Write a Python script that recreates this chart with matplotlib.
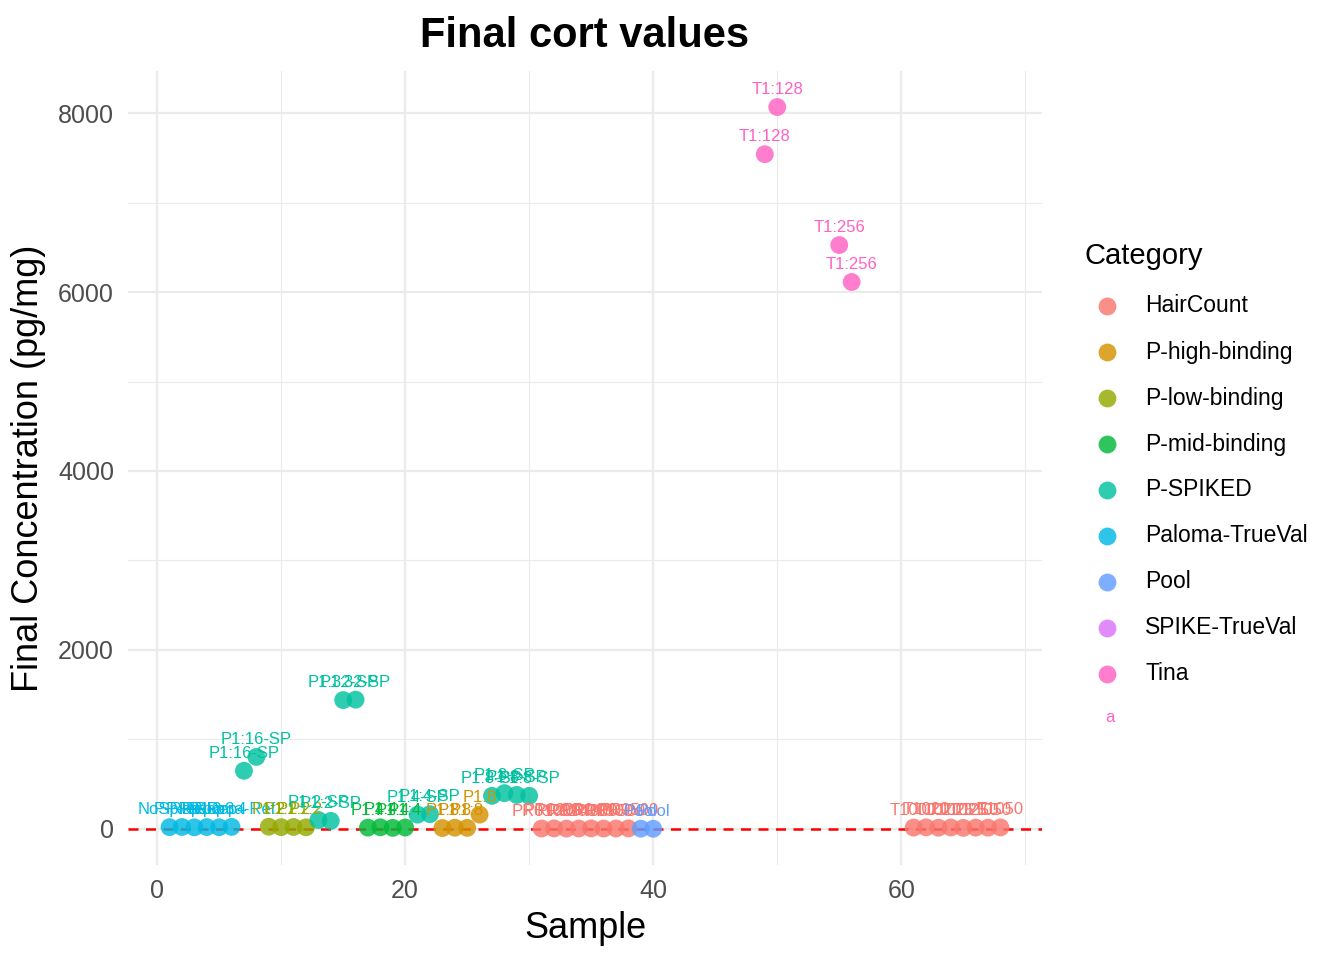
import numpy as np
import matplotlib
matplotlib.use("Agg")
import matplotlib.pyplot as plt

plt.rcParams["font.family"] = ["Liberation Sans", "DejaVu Sans"]

# --- Data ----------------------------------------------------------------
categories = ["HairCount", "P-high-binding", "P-low-binding", "P-mid-binding",
              "P-SPIKED", "Paloma-TrueVal", "Pool", "SPIKE-TrueVal", "Tina"]
colours = ["#F8766D", "#D39200", "#93AA00", "#00BA38", "#00C19F",
           "#00B9E3", "#619CFF", "#DB72FB", "#FF61C3"]

sample = [1, 2, 3, 4, 5, 6,
          7, 8,
          9, 10, 11, 12,
          13, 14, 15, 16,
          17, 18, 19, 20,
          21, 22,
          23, 24, 25, 26,
          27, 28, 29, 30,
          31, 32, 33, 34, 35, 36, 37, 38,
          39, 40,
          49, 50, 55, 56,
          61, 62, 63, 64, 65, 66, 67, 68]
conc = [20, 22, 18, 21, 19, 23,
        650, 805,
        25, 20, 22, 18,
        100, 90, 1440, 1445,
        15, 18, 12, 16,
        160, 165,
        10, 14, 12, 160,
        370, 400, 380, 370,
        5, 6, 4, 5, 6, 4, 5, 6,
        3, 2,
        7540, 8067, 6525, 6112,
        15, 18, 14, 16, 12, 15, 14, 17]
category = ["Paloma-TrueVal"] * 6 + \
           ["P-SPIKED"] * 2 + \
           ["P-low-binding"] * 4 + \
           ["P-SPIKED"] * 4 + \
           ["P-mid-binding"] * 4 + \
           ["P-SPIKED"] * 2 + \
           ["P-high-binding"] * 4 + \
           ["P-SPIKED"] * 4 + \
           ["HairCount"] * 8 + \
           ["Pool"] * 2 + \
           ["Tina"] * 4 + \
           ["HairCount"] * 8
label = ["NoSpike", "P-Rep1", "P-Rep2", "P-Rep3", "P-Rep4", "Paloma-Ref",
         "P1:16-SP", "P1:16-SP",
         "P1:2", "P1:2", "P1:2", "P1:2",
         "P1:2-SP", "P1:2-SP", "P1:32-SP", "P1:32-SP",
         "P1:4", "P1:4", "P1:4", "P1:4",
         "P1:4-SP", "P1:4-SP",
         "P1:8", "P1:8", "P1:8", "P1:8",
         "P1:8-SP", "P1:8-SP", "P1:8-SP", "P1:8-SP",
         "PR0100", "PR0200", "PR0200", "PR0400", "PR0400", "PR0500", "PR0500", "PR0500",
         "Pool", "Pool",
         "T1:128", "T1:128", "T1:256", "T1:256",
         "T1000", "T1020", "T1020", "T1025", "T1025", "T1250", "T1050", "T1050"]

colour_of = dict(zip(categories, colours))

# --- Figure ---------------------------------------------------------------
W, H = 1344, 960
fig = plt.figure(figsize=(W / 100, H / 100), dpi=100)
ax = fig.add_axes([128 / W, 1 - 865 / H, (1042 - 128) / W, (865 - 71) / H])

point_colours = [colour_of[c] for c in category]
ax.axhline(0, color="red", linestyle=(0, (4, 3)), linewidth=1.8, zorder=3)
ax.scatter(sample, conc, s=165, c=point_colours, alpha=0.82,
           linewidths=0, zorder=4)
for xi, yi, lab, col in zip(sample, conc, label, point_colours):
    ax.text(xi, yi + 195, lab, color=col, fontsize=12, ha="center",
            va="center", zorder=5)

ax.set_xlim(-2.35, 71.35)
ax.set_ylim(-403, 8470)
ax.set_xticks([0, 20, 40, 60])
ax.set_xticks([10, 30, 50, 70], minor=True)
ax.set_yticks([0, 2000, 4000, 6000, 8000])
ax.set_yticks([1000, 3000, 5000, 7000], minor=True)
ax.grid(which="major", color="#EBEBEB", linewidth=1.6, zorder=0)
ax.grid(which="minor", color="#EBEBEB", linewidth=0.8, zorder=0)
ax.set_axisbelow(True)
for sp in ax.spines.values():
    sp.set_visible(False)
ax.tick_params(which="both", length=0, labelsize=18, labelcolor="#4D4D4D")
ax.tick_params(axis="x", pad=10)
ax.tick_params(axis="y", pad=10)
ax.set_xlabel("Sample", fontsize=26, labelpad=6)
ax.set_ylabel("Final Concentration (pg/mg)", fontsize=26, labelpad=9)
ax.set_title("Final cort values", fontsize=30, fontweight="bold", pad=17)

# --- Legend drawn by hand in pixel coordinates ----------------------------
leg = fig.add_axes([0, 0, 1, 1], facecolor="none")
leg.set_xlim(0, W)
leg.set_ylim(H, 0)
leg.axis("off")
leg.text(1085, 256, "Category", fontsize=21, va="center", ha="left")
for i, (cat, col) in enumerate(zip(categories, colours)):
    yy = 306 + i * 46
    leg.scatter([1107], [yy], s=165, color=col, alpha=0.82, linewidths=0)
    leg.text(1145, yy, cat, fontsize=16.5, va="center", ha="left")
leg.text(1110, 718, "a", fontsize=12, color=colours[-1], va="center",
         ha="center")

fig.savefig("out.png", dpi=100)
plt.close(fig)
